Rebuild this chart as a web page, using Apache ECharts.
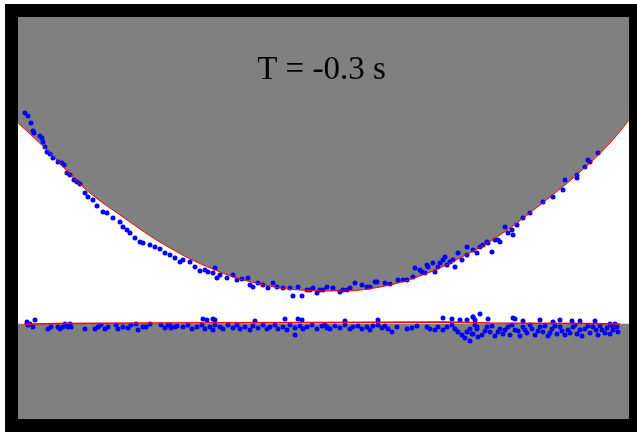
<!DOCTYPE html>
<html>
<head>
<meta charset="utf-8">
<script src="https://cdn.jsdelivr.net/npm/echarts@6/dist/echarts.min.js"></script>
<style>html,body{margin:0;padding:0;background:#fff;}#c{width:637px;height:432px;}</style>
</head>
<body>
<div id="c"></div>
<script>
// Units: 1 x-tick = 25 units; same scale on both axes; y = 0 at the lower (flat) surface.
const titleText = 'T = -0.3 s';
const xTickValues = [-100, -75, -50, -25, 0, 25, 50, 75, 100];

// Fitted upper (curved) surface - red line
const upperFitX = [-122.2, -109.4, -96.2, -81.4, -61.4, -41.4, -25.4, -9.4, 6.6, 22.6, 38.6, 54.6, 70.6, 86.6, 102.6, 114.6, 122.2];
const upperFitY = [80.2, 68.2, 54.6, 43.4, 30.2, 20.6, 15.8, 13.4, 13.0, 14.6, 19.0, 26.2, 35.4, 47.4, 60.6, 72.2, 81.4];

// Fitted lower (flat) surface - red line
const lowerFitX = [-119.8, -106.6, -69.4, -2.6, 49.4, 66.6, 105.4, 118.6];
const lowerFitY = [-0.32, 0, 0.2, 0.4, 0.6, 0.2, 0, -0.2];

// Level of the flat surface used for the grey fill below it
const lowerLevel = -0.1;
const fillXRange = [-125, 125];

// Measured points on the curved surface
const upperPoints = [
[-119.4,84.2],[-118.2,83.0],[-117.0,80.2],[-116.2,77.0],[-115.8,76.2],[-113.4,75.0],[-112.6,74.2],[-112.2,72.6],
[-111.4,70.6],[-110.6,68.6],[-109.4,67.8],[-108.2,66.2],[-106.2,64.6],[-104.6,64.2],[-103.8,63.4],[-102.6,60.2],
[-101.4,59.4],[-99.8,57.4],[-98.6,56.6],[-97.4,55.8],[-95.4,52.2],[-94.2,50.6],[-92.2,49.4],[-90.6,47.0],
[-88.2,44.6],[-86.6,44.2],[-84.2,42.2],[-81.4,40.6],[-80.2,38.6],[-78.6,37.4],[-77.4,36.2],[-75.4,34.2],
[-73.4,32.6],[-72.2,32.2],[-69.4,31.4],[-67.4,30.6],[-65.4,29.8],[-63.4,28.2],[-61.4,27.4],[-59.4,26.2],
[-57.4,24.6],[-56.2,25.4],[-53.4,24.6],[-51.4,22.6],[-49.4,21.0],[-47.4,21.4],[-46.2,20.6],[-44.2,20.2],
[-43.4,22.2],[-42.6,18.2],[-41.4,19.4],[-38.6,18.2],[-36.2,19.4],[-34.6,17.4],[-32.6,17.8],[-30.2,18.2],
[-29.4,15.4],[-28.2,14.6],[-26.2,16.2],[-24.2,15.4],[-22.2,14.2],[-20.2,16.2],[-18.6,14.6],[-16.2,14.2],
[-13.4,14.2],[-12.2,11.0],[-10.2,14.6],[-8.6,11.0],[-6.6,13.4],[-5.4,13.4],[-4.2,14.2],[-2.6,12.2],
[-1.4,13.4],[-0.2,13.4],[1.4,14.6],[3.8,14.2],[6.6,12.6],[7.8,13.4],[9.4,13.4],[10.6,14.2],
[12.6,16.2],[15.4,15.4],[17.4,14.6],[18.6,14.6],[20.6,16.6],[21.4,16.6],[24.6,16.2],[26.6,15.8],
[29.8,17.4],[31.8,17.4],[33.4,17.4],[35.8,18.6],[36.6,22.2],[38.6,21.4],[39.4,20.6],[40.6,20.2],
[41.4,23.4],[41.8,22.6],[43.8,24.2],[44.6,20.6],[45.8,22.6],[46.6,24.2],[47.8,25.4],[48.6,26.6],
[49.4,23.4],[50.6,24.6],[51.8,25.4],[52.6,22.6],[53.8,28.2],[55.4,25.4],[57.4,30.6],[57.4,27.4],
[59.8,29.4],[61.4,28.2],[62.6,30.6],[63.8,31.4],[65.4,32.6],[65.8,32.2],[67.4,28.6],[68.6,33.4],
[69.8,33.4],[70.6,32.6],[72.6,38.6],[73.8,36.2],[75.4,37.4],[75.8,35.4],[77.4,39.4],[79.8,42.2],
[82.6,44.2],[87.8,48.6],[91.8,50.6],[95.8,53.4],[96.6,57.4],[101.4,59.4],[101.4,58.2],[104.6,62.6],
[105.8,65.4],[106.6,64.6],[109.8,68.2]
];

// Measured points on the flat surface
const lowerPoints = [
[-118.6,0.6],[-118.2,-0.6],[-117.4,-0.2],[-116.2,-1.4],[-115.4,1.4],[-110.2,-2.2],[-109.0,-1.4],[-106.2,-1.4],
[-105.4,-2.2],[-104.2,-1.4],[-103.4,-0.2],[-102.2,-1.4],[-101.4,-0.2],[-101.0,-1.4],[-95.4,-2.2],[-91.4,-2.2],
[-90.2,-1.4],[-89.0,-0.6],[-87.4,-2.2],[-86.2,-1.4],[-83.0,-0.6],[-82.2,-2.2],[-80.2,-1.4],[-78.2,-1.8],
[-77.0,-0.6],[-75.0,-0.2],[-74.2,-2.6],[-72.2,-1.4],[-71.0,-1.4],[-69.4,-0.2],[-65.0,-0.6],[-63.4,-1.8],
[-62.2,-0.6],[-61.0,-1.8],[-59.4,-1.4],
[-48.2,1.8],[-46.6,1.4],[-44.2,1.8],[-43.4,1.4],[-27.4,1.0],[-15.4,1.8],[-10.2,1.8],[-8.6,1.4],
[-61.4,-0.6],[-58.6,-1.0],[-56.2,-1.4],[-54.2,-0.6],[-52.6,-2.2],[-50.6,-1.4],[-48.6,-0.6],[-47.4,-2.2],
[-45.4,-1.4],[-44.2,-2.6],[-43.4,-0.6],[-41.4,-1.4],[-40.2,-2.2],[-38.2,-0.6],[-36.2,-1.8],[-34.6,-0.6],
[-33.4,-2.2],[-31.4,-1.4],[-29.4,-2.6],[-28.2,-1.0],[-26.2,-1.8],[-24.2,-0.6],[-22.6,-2.2],[-21.4,-1.4],
[-19.4,-0.6],[-18.2,-2.2],[-16.2,-1.4],[-14.6,-2.6],[-13.4,-0.6],[-11.4,-4.6],[-11.4,-1.8],[-9.4,-1.0],
[-8.2,-2.2],[-6.6,-1.4],[-4.6,-0.6],[-2.6,-2.2],[-0.6,-1.0],[1.4,-1.8],
[8.6,1.0],[21.8,1.4],[47.8,2.2],[51.4,1.8],[54.6,1.4],[57.4,1.4],[59.8,2.6],[60.6,1.4],
[0.6,-0.6],[1.4,-1.4],[2.6,-2.2],[4.6,-1.0],[6.6,-1.8],[8.6,-0.6],[10.6,-2.2],[11.8,-1.4],
[13.8,-1.0],[15.4,-2.2],[17.4,-1.4],[18.6,-2.6],[19.8,-1.0],[21.8,-0.6],[23.4,-1.8],[24.6,-1.0],
[25.8,-2.2],[27.4,-3.4],[29.4,-1.4],[33.4,-2.2],[35.4,-1.8],[37.4,-1.0],[41.4,-1.4],[42.6,-2.2],
[44.6,-2.6],[45.8,-1.4],[47.8,-2.6],[49.4,-1.4],[51.4,-0.6],[52.6,-2.2],[53.8,-3.4],[55.4,-4.6],
[56.6,-5.8],[57.4,-3.4],[58.6,-2.2],[59.8,-4.2],[61.4,-1.4],[61.8,-5.4],[58.6,-7.0],
[59.8,2.6],[62.6,3.8],[65.8,1.8],[75.8,2.2],[76.6,1.8],[79.8,1.0],[86.6,1.4],[91.8,0.6],
[94.6,1.4],[99.4,1.0],[102.6,1.0],[108.6,1.0],[114.6,-0.2],[116.6,-0.2],
[59.4,-4.2],[61.4,-2.2],[63.4,-4.6],[65.4,-1.4],[66.6,-3.4],[68.6,-5.0],[70.6,-2.2],[71.8,-4.2],
[73.8,-1.4],[74.6,-4.6],[76.6,-2.6],[78.6,-5.0],[79.8,-1.4],[81.4,-3.8],[83.4,-2.2],[84.6,-4.6],
[86.6,-1.4],[87.8,-3.4],[89.8,-5.0],[91.4,-2.2],[93.4,-4.2],[94.6,-1.4],[96.6,-4.6],[97.8,-2.6],
[99.8,-1.4],[101.4,-4.2],[103.4,-5.0],[104.6,-2.2],[106.6,-3.8],[107.8,-1.4],[109.8,-4.6],[111.4,-2.6],
[113.4,-1.8],[114.6,-4.2],[115.8,-2.6],[117.4,-1.4],
[60.6,-0.6],[64.6,-3.0],[67.4,-1.0],[69.8,-3.4],[72.6,-2.6],[75.4,-0.6],[77.8,-3.0],[80.6,-2.6],
[82.6,-0.6],[85.8,-3.0],[88.6,-1.0],[90.6,-3.8],[92.6,-1.0],[95.4,-3.0],[98.6,-3.8],[100.6,-0.6],
[102.6,-2.6],[105.8,-1.0],[109.0,-2.6],[110.6,-1.0],[112.6,-3.8],[115.4,-1.0],[117.8,-3.4]
];

const fillBottom = fillXRange.map(x => [x, lowerLevel]);
const upperFit = upperFitX.map((x, i) => [x, upperFitY[i]]);
const lowerFit = lowerFitX.map((x, i) => [x, lowerFitY[i]]);

const chart = echarts.init(document.getElementById('c'), null, {renderer: 'canvas'});
chart.setOption({
  animation: false,
  backgroundColor: '#ffffff',
  grid: {left: 11, right: 1, top: 17, bottom: 13, show: true, backgroundColor: '#808080', borderWidth: 0},
  xAxis: {
    type: 'value', min: -125, max: 125, interval: 25,
    axisLine: {show: false},
    axisTick: {show: true, inside: true, length: 2, lineStyle: {color: '#222', width: 1}},
    axisLabel: {show: false},
    splitLine: {show: false}
  },
  yAxis: {
    type: 'value', min: -38.2, max: 122.6,
    axisLine: {show: false}, axisTick: {show: false}, axisLabel: {show: false}, splitLine: {show: false}
  },
  series: [
    {type: 'line', data: upperFit, smooth: 0.4, symbol: 'none', z: 1,
     lineStyle: {width: 0}, areaStyle: {color: '#ffffff', opacity: 1, origin: 'start'}},
    {type: 'line', data: fillBottom, symbol: 'none', z: 2,
     lineStyle: {width: 0}, areaStyle: {color: '#808080', opacity: 1, origin: 'start'}},
    {type: 'scatter', data: upperPoints, symbol: 'circle', symbolSize: 5, z: 3,
     itemStyle: {color: '#0000ff', opacity: 1}},
    {type: 'scatter', data: lowerPoints, symbol: 'circle', symbolSize: 5, z: 3,
     itemStyle: {color: '#0000ff', opacity: 1}},
    {type: 'line', data: upperFit, smooth: 0.4, symbol: 'none', z: 4,
     lineStyle: {color: '#ff0000', width: 1}},
    {type: 'line', data: lowerFit, symbol: 'none', z: 4,
     lineStyle: {color: '#ff0000', width: 1.5}}
  ],
  graphic: [
    {type: 'rect', z: 100, shape: {x: 5, y: 4, width: 632, height: 13}, style: {fill: '#000'}},
    {type: 'rect', z: 100, shape: {x: 5, y: 419, width: 632, height: 13}, style: {fill: '#000'}},
    {type: 'rect', z: 100, shape: {x: 5, y: 4, width: 13, height: 428}, style: {fill: '#000'}},
    {type: 'rect', z: 100, shape: {x: 629, y: 4, width: 8, height: 428}, style: {fill: '#000'}},
    {type: 'text', z: 101, x: 321.5, y: 54,
     style: {text: titleText, fill: '#000', font: '33px "Liberation Serif", "Times New Roman", serif', textAlign: 'center', textVerticalAlign: 'top'}}
  ]
});
</script>
</body>
</html>
